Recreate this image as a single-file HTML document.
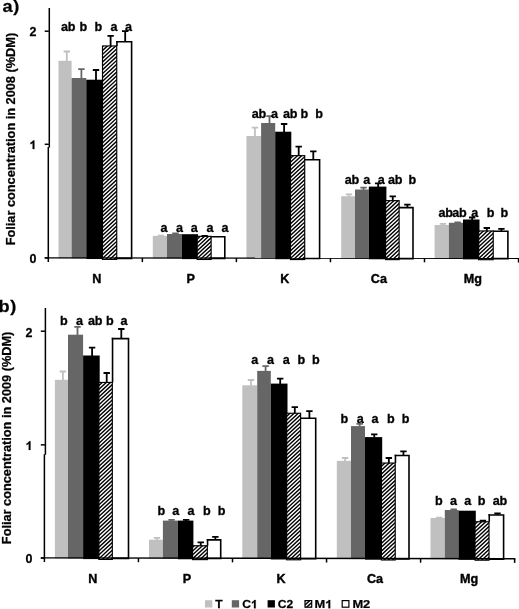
<!DOCTYPE html>
<html><head><meta charset="utf-8"><title>Foliar concentration</title>
<style>html,body{margin:0;padding:0;background:#fff;}svg{display:block;}</style></head>
<body>
<svg width="519" height="609" viewBox="0 0 519 609">
<defs><pattern id="h" width="2.83" height="2.83" patternUnits="userSpaceOnUse" patternTransform="scale(1.07,1) rotate(-45)"><rect width="2.83" height="2.83" fill="#fff"/><rect y="0" width="2.83" height="1.3" fill="#000"/></pattern></defs>
<rect width="519" height="609" fill="#fff"/>
<rect x="58.5" y="60.800000000000004" width="13.10" height="197.54" fill="#c0c0c0"/>
<rect x="71.6" y="78.0" width="14.70" height="180.34" fill="#666666"/>
<rect x="86.3" y="79.69999999999999" width="17.00" height="179.34" fill="#000000"/>
<rect x="116.73" y="41.70" width="14.87" height="216.64" fill="#fff"/>
<path d="M116.15 41.70H131.60V258.34H116.15" fill="none" stroke="#000" stroke-width="1.6"/>
<path d="M116.95 40.90V46.00" fill="none" stroke="#000" stroke-width="1.6"/>
<clipPath id="c1"><rect x="102.50" y="45.95" width="14.23" height="213.44"/></clipPath>
<rect x="102.50" y="45.95" width="14.23" height="213.44" fill="#fff"/>
<path clip-path="url(#c1)" d="M101.50 43.78L117.73 28.69M101.50 47.63L117.73 32.54M101.50 51.48L117.73 36.39M101.50 55.33L117.73 40.24M101.50 59.18L117.73 44.09M101.50 63.03L117.73 47.94M101.50 66.88L117.73 51.79M101.50 70.73L117.73 55.64M101.50 74.58L117.73 59.49M101.50 78.43L117.73 63.34M101.50 82.28L117.73 67.19M101.50 86.13L117.73 71.04M101.50 89.98L117.73 74.89M101.50 93.83L117.73 78.74M101.50 97.68L117.73 82.59M101.50 101.53L117.73 86.44M101.50 105.38L117.73 90.29M101.50 109.23L117.73 94.14M101.50 113.08L117.73 97.99M101.50 116.93L117.73 101.84M101.50 120.78L117.73 105.69M101.50 124.63L117.73 109.54M101.50 128.48L117.73 113.39M101.50 132.33L117.73 117.24M101.50 136.18L117.73 121.09M101.50 140.03L117.73 124.94M101.50 143.88L117.73 128.79M101.50 147.73L117.73 132.64M101.50 151.58L117.73 136.49M101.50 155.43L117.73 140.34M101.50 159.28L117.73 144.19M101.50 163.13L117.73 148.04M101.50 166.98L117.73 151.89M101.50 170.83L117.73 155.74M101.50 174.68L117.73 159.59M101.50 178.53L117.73 163.44M101.50 182.38L117.73 167.29M101.50 186.23L117.73 171.14M101.50 190.08L117.73 174.99M101.50 193.93L117.73 178.84M101.50 197.78L117.73 182.69M101.50 201.63L117.73 186.54M101.50 205.48L117.73 190.39M101.50 209.33L117.73 194.24M101.50 213.18L117.73 198.09M101.50 217.03L117.73 201.94M101.50 220.88L117.73 205.79M101.50 224.73L117.73 209.64M101.50 228.58L117.73 213.49M101.50 232.43L117.73 217.34M101.50 236.28L117.73 221.19M101.50 240.13L117.73 225.04M101.50 243.98L117.73 228.89M101.50 247.83L117.73 232.74M101.50 251.68L117.73 236.59M101.50 255.53L117.73 240.44M101.50 259.38L117.73 244.29M101.50 263.23L117.73 248.14M101.50 267.08L117.73 251.99M101.50 270.93L117.73 255.84M101.50 274.78L117.73 259.69" stroke="#000" stroke-width="1.4" fill="none"/>
<rect x="102.50" y="45.95" width="14.23" height="213.44" fill="none" stroke="#000" stroke-width="1.15"/>
<path d="M66.80 61.30V51.50M63.60 51.50H70.00" stroke="#c0c0c0" stroke-width="1.8" fill="none"/>
<path d="M81.40 78.50V69.20M78.20 69.20H84.60" stroke="#666666" stroke-width="1.8" fill="none"/>
<path d="M96.00 80.20V70.00M92.80 70.00H99.20" stroke="#000000" stroke-width="1.8" fill="none"/>
<path d="M110.60 45.90V35.90M107.40 35.90H113.80" stroke="#000000" stroke-width="1.8" fill="none"/>
<path d="M125.20 41.40V31.20M122.00 31.20H128.40" stroke="#000000" stroke-width="1.8" fill="none"/>
<rect x="152.8" y="235.9" width="14.20" height="22.52" fill="#c0c0c0"/>
<rect x="167" y="234.0" width="14.90" height="24.42" fill="#666666"/>
<rect x="181.9" y="234.2" width="16.10" height="24.92" fill="#000000"/>
<rect x="211.12" y="236.70" width="13.67" height="21.72" fill="#fff"/>
<path d="M210.55 236.70H224.80V258.42H210.55" fill="none" stroke="#000" stroke-width="1.6"/>
<clipPath id="c2"><rect x="197.20" y="236.35" width="13.93" height="23.12"/></clipPath>
<rect x="197.20" y="236.35" width="13.93" height="23.12" fill="#fff"/>
<path clip-path="url(#c2)" d="M196.20 236.28L212.12 221.47M196.20 240.13L212.12 225.32M196.20 243.98L212.12 229.17M196.20 247.83L212.12 233.02M196.20 251.68L212.12 236.87M196.20 255.53L212.12 240.72M196.20 259.38L212.12 244.57M196.20 263.23L212.12 248.42M196.20 267.08L212.12 252.27M196.20 270.93L212.12 256.12M196.20 274.78L212.12 259.97" stroke="#000" stroke-width="1.4" fill="none"/>
<rect x="197.20" y="236.35" width="13.93" height="23.12" fill="none" stroke="#000" stroke-width="1.15"/>
<path d="M160.85 236.40V235.60M157.65 235.60H164.05" stroke="#c0c0c0" stroke-width="1.8" fill="none"/>
<path d="M175.45 234.50V233.50M172.25 233.50H178.65" stroke="#666666" stroke-width="1.8" fill="none"/>
<path d="M204.65 236.30V235.80M201.45 235.80H207.85" stroke="#000000" stroke-width="1.8" fill="none"/>
<rect x="246.4" y="136.0" width="14.70" height="122.50" fill="#c0c0c0"/>
<rect x="261.1" y="123.0" width="14.10" height="135.50" fill="#666666"/>
<rect x="275.2" y="131.7" width="16.10" height="127.50" fill="#000000"/>
<rect x="304.72" y="159.80" width="14.88" height="98.70" fill="#fff"/>
<path d="M304.15 159.80H319.60V258.50H304.15" fill="none" stroke="#000" stroke-width="1.6"/>
<clipPath id="c3"><rect x="290.50" y="155.65" width="14.22" height="103.90"/></clipPath>
<rect x="290.50" y="155.65" width="14.22" height="103.90" fill="#fff"/>
<path clip-path="url(#c3)" d="M289.50 155.43L305.72 140.34M289.50 159.28L305.72 144.19M289.50 163.13L305.72 148.04M289.50 166.98L305.72 151.89M289.50 170.83L305.72 155.74M289.50 174.68L305.72 159.59M289.50 178.53L305.72 163.44M289.50 182.38L305.72 167.29M289.50 186.23L305.72 171.14M289.50 190.08L305.72 174.99M289.50 193.93L305.72 178.84M289.50 197.78L305.72 182.69M289.50 201.63L305.72 186.54M289.50 205.48L305.72 190.39M289.50 209.33L305.72 194.24M289.50 213.18L305.72 198.09M289.50 217.03L305.72 201.94M289.50 220.88L305.72 205.79M289.50 224.73L305.72 209.64M289.50 228.58L305.72 213.49M289.50 232.43L305.72 217.34M289.50 236.28L305.72 221.19M289.50 240.13L305.72 225.04M289.50 243.98L305.72 228.89M289.50 247.83L305.72 232.74M289.50 251.68L305.72 236.59M289.50 255.53L305.72 240.44M289.50 259.38L305.72 244.29M289.50 263.23L305.72 248.14M289.50 267.08L305.72 251.99M289.50 270.93L305.72 255.84M289.50 274.78L305.72 259.69" stroke="#000" stroke-width="1.4" fill="none"/>
<rect x="290.50" y="155.65" width="14.22" height="103.90" fill="none" stroke="#000" stroke-width="1.15"/>
<path d="M254.90 136.50V127.70M251.70 127.70H258.10" stroke="#c0c0c0" stroke-width="1.8" fill="none"/>
<path d="M269.50 123.50V116.20M266.30 116.20H272.70" stroke="#666666" stroke-width="1.8" fill="none"/>
<path d="M284.10 132.20V124.00M280.90 124.00H287.30" stroke="#000000" stroke-width="1.8" fill="none"/>
<path d="M298.70 155.60V146.70M295.50 146.70H301.90" stroke="#000000" stroke-width="1.8" fill="none"/>
<path d="M313.30 159.50V151.40M310.10 151.40H316.50" stroke="#000000" stroke-width="1.8" fill="none"/>
<rect x="341.2" y="196.2" width="13.80" height="62.38" fill="#c0c0c0"/>
<rect x="355" y="189.5" width="13.80" height="69.08" fill="#666666"/>
<rect x="368.8" y="186.6" width="17.60" height="72.68" fill="#000000"/>
<rect x="399.12" y="207.60" width="13.88" height="50.98" fill="#fff"/>
<path d="M398.55 207.60H413.00V258.58H398.55" fill="none" stroke="#000" stroke-width="1.6"/>
<clipPath id="c4"><rect x="385.60" y="200.65" width="13.52" height="58.98"/></clipPath>
<rect x="385.60" y="200.65" width="13.52" height="58.98" fill="#fff"/>
<path clip-path="url(#c4)" d="M384.60 201.63L400.12 187.19M384.60 205.48L400.12 191.04M384.60 209.33L400.12 194.89M384.60 213.18L400.12 198.74M384.60 217.03L400.12 202.59M384.60 220.88L400.12 206.44M384.60 224.73L400.12 210.29M384.60 228.58L400.12 214.14M384.60 232.43L400.12 217.99M384.60 236.28L400.12 221.84M384.60 240.13L400.12 225.69M384.60 243.98L400.12 229.54M384.60 247.83L400.12 233.39M384.60 251.68L400.12 237.24M384.60 255.53L400.12 241.09M384.60 259.38L400.12 244.94M384.60 263.23L400.12 248.79M384.60 267.08L400.12 252.64M384.60 270.93L400.12 256.49M384.60 274.78L400.12 260.34" stroke="#000" stroke-width="1.4" fill="none"/>
<rect x="385.60" y="200.65" width="13.52" height="58.98" fill="none" stroke="#000" stroke-width="1.15"/>
<path d="M348.95 196.70V194.40M345.75 194.40H352.15" stroke="#c0c0c0" stroke-width="1.8" fill="none"/>
<path d="M363.55 190.00V187.70M360.35 187.70H366.75" stroke="#666666" stroke-width="1.8" fill="none"/>
<path d="M378.15 187.10V183.40M374.95 183.40H381.35" stroke="#000000" stroke-width="1.8" fill="none"/>
<path d="M392.75 200.60V196.30M389.55 196.30H395.95" stroke="#000000" stroke-width="1.8" fill="none"/>
<path d="M407.35 207.30V204.60M404.15 204.60H410.55" stroke="#000000" stroke-width="1.8" fill="none"/>
<rect x="434.6" y="225.0" width="14.30" height="33.66" fill="#c0c0c0"/>
<rect x="448.9" y="222.79999999999998" width="14.10" height="35.86" fill="#666666"/>
<rect x="463" y="219.5" width="16.50" height="39.86" fill="#000000"/>
<rect x="493.22" y="231.20" width="14.68" height="27.46" fill="#fff"/>
<path d="M492.65 231.20H507.90V258.66H492.65" fill="none" stroke="#000" stroke-width="1.6"/>
<clipPath id="c5"><rect x="478.70" y="230.95" width="14.52" height="28.76"/></clipPath>
<rect x="478.70" y="230.95" width="14.52" height="28.76" fill="#fff"/>
<path clip-path="url(#c5)" d="M477.70 228.58L494.22 213.21M477.70 232.43L494.22 217.06M477.70 236.28L494.22 220.91M477.70 240.13L494.22 224.76M477.70 243.98L494.22 228.61M477.70 247.83L494.22 232.46M477.70 251.68L494.22 236.31M477.70 255.53L494.22 240.16M477.70 259.38L494.22 244.01M477.70 263.23L494.22 247.86M477.70 267.08L494.22 251.71M477.70 270.93L494.22 255.56M477.70 274.78L494.22 259.41" stroke="#000" stroke-width="1.4" fill="none"/>
<rect x="478.70" y="230.95" width="14.52" height="28.76" fill="none" stroke="#000" stroke-width="1.15"/>
<path d="M443.00 225.50V223.80M439.80 223.80H446.20" stroke="#c0c0c0" stroke-width="1.8" fill="none"/>
<path d="M457.60 223.30V222.40M454.40 222.40H460.80" stroke="#666666" stroke-width="1.8" fill="none"/>
<path d="M472.20 220.00V217.50M469.00 217.50H475.40" stroke="#000000" stroke-width="1.8" fill="none"/>
<path d="M486.80 230.90V228.00M483.60 228.00H490.00" stroke="#000000" stroke-width="1.8" fill="none"/>
<path d="M501.40 230.90V228.90M498.20 228.90H504.60" stroke="#000000" stroke-width="1.8" fill="none"/>
<path d="M49.3 8V147.5M48.3 147.0V258.3" stroke="#000" stroke-width="1.5" fill="none"/>
<path d="M44.699999999999996 257.90L519.30 258.30" stroke="#000" stroke-width="1.4" fill="none"/>
<path d="M48.30 257.90V262.00" stroke="#000" stroke-width="1.5" fill="none"/>
<path d="M142.35 257.98V262.08" stroke="#000" stroke-width="1.5" fill="none"/>
<path d="M236.40 258.06V262.16" stroke="#000" stroke-width="1.5" fill="none"/>
<path d="M330.45 258.14V262.24" stroke="#000" stroke-width="1.5" fill="none"/>
<path d="M424.50 258.22V262.32" stroke="#000" stroke-width="1.5" fill="none"/>
<path d="M518.55 258.30V262.40" stroke="#000" stroke-width="1.5" fill="none"/>
<path d="M44.699999999999996 257.90H48.8" stroke="#000" stroke-width="1.5" fill="none"/>
<path d="M44.699999999999996 144.30H48.8" stroke="#000" stroke-width="1.5" fill="none"/>
<path d="M44.699999999999996 31.20H48.8" stroke="#000" stroke-width="1.5" fill="none"/>
<rect x="54.9" y="379.8" width="13.10" height="178.59" fill="#c0c0c0"/>
<rect x="68" y="334.70000000000005" width="15.10" height="223.69" fill="#666666"/>
<rect x="83.1" y="355.5" width="16.60" height="203.59" fill="#000000"/>
<rect x="112.33" y="338.60" width="16.17" height="219.79" fill="#fff"/>
<path d="M111.75 338.60H128.50V558.39H111.75" fill="none" stroke="#000" stroke-width="1.6"/>
<path d="M112.55 337.80V382.50" fill="none" stroke="#000" stroke-width="1.6"/>
<clipPath id="c6"><rect x="98.90" y="382.45" width="13.42" height="176.99"/></clipPath>
<rect x="98.90" y="382.45" width="13.42" height="176.99" fill="#fff"/>
<path clip-path="url(#c6)" d="M97.90 382.58L113.33 368.23M97.90 386.43L113.33 372.08M97.90 390.28L113.33 375.93M97.90 394.13L113.33 379.78M97.90 397.98L113.33 383.63M97.90 401.83L113.33 387.48M97.90 405.68L113.33 391.33M97.90 409.53L113.33 395.18M97.90 413.38L113.33 399.03M97.90 417.23L113.33 402.88M97.90 421.08L113.33 406.73M97.90 424.93L113.33 410.58M97.90 428.78L113.33 414.43M97.90 432.63L113.33 418.28M97.90 436.48L113.33 422.13M97.90 440.33L113.33 425.98M97.90 444.18L113.33 429.83M97.90 448.03L113.33 433.68M97.90 451.88L113.33 437.53M97.90 455.73L113.33 441.38M97.90 459.58L113.33 445.23M97.90 463.43L113.33 449.08M97.90 467.28L113.33 452.93M97.90 471.13L113.33 456.78M97.90 474.98L113.33 460.63M97.90 478.83L113.33 464.48M97.90 482.68L113.33 468.33M97.90 486.53L113.33 472.18M97.90 490.38L113.33 476.03M97.90 494.23L113.33 479.88M97.90 498.08L113.33 483.73M97.90 501.93L113.33 487.58M97.90 505.78L113.33 491.43M97.90 509.63L113.33 495.28M97.90 513.48L113.33 499.13M97.90 517.33L113.33 502.98M97.90 521.18L113.33 506.83M97.90 525.03L113.33 510.68M97.90 528.88L113.33 514.53M97.90 532.73L113.33 518.38M97.90 536.58L113.33 522.23M97.90 540.43L113.33 526.08M97.90 544.28L113.33 529.93M97.90 548.13L113.33 533.78M97.90 551.98L113.33 537.63M97.90 555.83L113.33 541.48M97.90 559.68L113.33 545.33M97.90 563.53L113.33 549.18M97.90 567.38L113.33 553.03M97.90 571.23L113.33 556.88M97.90 575.08L113.33 560.73" stroke="#000" stroke-width="1.4" fill="none"/>
<rect x="98.90" y="382.45" width="13.42" height="176.99" fill="none" stroke="#000" stroke-width="1.15"/>
<path d="M62.90 380.30V371.50M59.70 371.50H66.10" stroke="#c0c0c0" stroke-width="1.8" fill="none"/>
<path d="M77.50 335.20V326.80M74.30 326.80H80.70" stroke="#666666" stroke-width="1.8" fill="none"/>
<path d="M92.10 356.00V347.60M88.90 347.60H95.30" stroke="#000000" stroke-width="1.8" fill="none"/>
<path d="M106.70 382.40V373.00M103.50 373.00H109.90" stroke="#000000" stroke-width="1.8" fill="none"/>
<path d="M121.30 338.30V329.00M118.10 329.00H124.50" stroke="#000000" stroke-width="1.8" fill="none"/>
<rect x="149" y="539.7" width="13.90" height="18.87" fill="#c0c0c0"/>
<rect x="162.9" y="520.6" width="14.90" height="37.97" fill="#666666"/>
<rect x="177.8" y="520.6" width="15.60" height="38.67" fill="#000000"/>
<rect x="207.32" y="539.90" width="13.38" height="18.67" fill="#fff"/>
<path d="M206.75 539.90H220.70V558.57H206.75" fill="none" stroke="#000" stroke-width="1.6"/>
<path d="M207.55 539.10V545.80" fill="none" stroke="#000" stroke-width="1.6"/>
<clipPath id="c7"><rect x="192.60" y="545.75" width="14.72" height="13.87"/></clipPath>
<rect x="192.60" y="545.75" width="14.72" height="13.87" fill="#fff"/>
<path clip-path="url(#c7)" d="M191.60 544.28L208.32 528.73M191.60 548.13L208.32 532.58M191.60 551.98L208.32 536.43M191.60 555.83L208.32 540.28M191.60 559.68L208.32 544.13M191.60 563.53L208.32 547.98M191.60 567.38L208.32 551.83M191.60 571.23L208.32 555.68M191.60 575.08L208.32 559.53" stroke="#000" stroke-width="1.4" fill="none"/>
<rect x="192.60" y="545.75" width="14.72" height="13.87" fill="none" stroke="#000" stroke-width="1.15"/>
<path d="M156.95 540.20V537.80M153.75 537.80H160.15" stroke="#c0c0c0" stroke-width="1.8" fill="none"/>
<path d="M171.55 521.10V519.90M168.35 519.90H174.75" stroke="#666666" stroke-width="1.8" fill="none"/>
<path d="M186.15 521.10V519.90M182.95 519.90H189.35" stroke="#000000" stroke-width="1.8" fill="none"/>
<path d="M200.75 545.70V542.40M197.55 542.40H203.95" stroke="#000000" stroke-width="1.8" fill="none"/>
<path d="M215.35 539.60V536.90M212.15 536.90H218.55" stroke="#000000" stroke-width="1.8" fill="none"/>
<rect x="242.3" y="385.3" width="14.90" height="173.45" fill="#c0c0c0"/>
<rect x="257.2" y="370.90000000000003" width="13.60" height="187.85" fill="#666666"/>
<rect x="270.8" y="383.6" width="16.70" height="175.85" fill="#000000"/>
<rect x="300.62" y="418.20" width="15.08" height="140.55" fill="#fff"/>
<path d="M300.05 418.20H315.70V558.75H300.05" fill="none" stroke="#000" stroke-width="1.6"/>
<clipPath id="c8"><rect x="286.70" y="413.25" width="13.92" height="146.55"/></clipPath>
<rect x="286.70" y="413.25" width="13.92" height="146.55" fill="#fff"/>
<path clip-path="url(#c8)" d="M285.70 413.38L301.62 398.57M285.70 417.23L301.62 402.42M285.70 421.08L301.62 406.27M285.70 424.93L301.62 410.12M285.70 428.78L301.62 413.97M285.70 432.63L301.62 417.82M285.70 436.48L301.62 421.67M285.70 440.33L301.62 425.52M285.70 444.18L301.62 429.37M285.70 448.03L301.62 433.22M285.70 451.88L301.62 437.07M285.70 455.73L301.62 440.92M285.70 459.58L301.62 444.77M285.70 463.43L301.62 448.62M285.70 467.28L301.62 452.47M285.70 471.13L301.62 456.32M285.70 474.98L301.62 460.17M285.70 478.83L301.62 464.02M285.70 482.68L301.62 467.87M285.70 486.53L301.62 471.72M285.70 490.38L301.62 475.57M285.70 494.23L301.62 479.42M285.70 498.08L301.62 483.27M285.70 501.93L301.62 487.12M285.70 505.78L301.62 490.97M285.70 509.63L301.62 494.82M285.70 513.48L301.62 498.67M285.70 517.33L301.62 502.52M285.70 521.18L301.62 506.37M285.70 525.03L301.62 510.22M285.70 528.88L301.62 514.07M285.70 532.73L301.62 517.92M285.70 536.58L301.62 521.77M285.70 540.43L301.62 525.62M285.70 544.28L301.62 529.47M285.70 548.13L301.62 533.32M285.70 551.98L301.62 537.17M285.70 555.83L301.62 541.02M285.70 559.68L301.62 544.87M285.70 563.53L301.62 548.72M285.70 567.38L301.62 552.57M285.70 571.23L301.62 556.42M285.70 575.08L301.62 560.27" stroke="#000" stroke-width="1.4" fill="none"/>
<rect x="286.70" y="413.25" width="13.92" height="146.55" fill="none" stroke="#000" stroke-width="1.15"/>
<path d="M251.00 385.80V380.00M247.80 380.00H254.20" stroke="#c0c0c0" stroke-width="1.8" fill="none"/>
<path d="M265.60 371.40V366.10M262.40 366.10H268.80" stroke="#666666" stroke-width="1.8" fill="none"/>
<path d="M280.20 384.10V378.60M277.00 378.60H283.40" stroke="#000000" stroke-width="1.8" fill="none"/>
<path d="M294.80 413.20V407.20M291.60 407.20H298.00" stroke="#000000" stroke-width="1.8" fill="none"/>
<path d="M309.40 417.90V411.20M306.20 411.20H312.60" stroke="#000000" stroke-width="1.8" fill="none"/>
<rect x="336.8" y="460.8" width="14.20" height="98.13" fill="#c0c0c0"/>
<rect x="351" y="426.1" width="14.00" height="132.83" fill="#666666"/>
<rect x="365.0" y="437.1" width="17.20" height="122.53" fill="#000000"/>
<rect x="395.22" y="455.50" width="13.78" height="103.43" fill="#fff"/>
<path d="M394.65 455.50H409.00V558.93H394.65" fill="none" stroke="#000" stroke-width="1.6"/>
<path d="M395.45 454.70V463.10" fill="none" stroke="#000" stroke-width="1.6"/>
<clipPath id="c9"><rect x="381.40" y="463.05" width="13.82" height="96.93"/></clipPath>
<rect x="381.40" y="463.05" width="13.82" height="96.93" fill="#fff"/>
<path clip-path="url(#c9)" d="M380.40 463.43L396.22 448.71M380.40 467.28L396.22 452.56M380.40 471.13L396.22 456.41M380.40 474.98L396.22 460.26M380.40 478.83L396.22 464.11M380.40 482.68L396.22 467.96M380.40 486.53L396.22 471.81M380.40 490.38L396.22 475.66M380.40 494.23L396.22 479.51M380.40 498.08L396.22 483.36M380.40 501.93L396.22 487.21M380.40 505.78L396.22 491.06M380.40 509.63L396.22 494.91M380.40 513.48L396.22 498.76M380.40 517.33L396.22 502.61M380.40 521.18L396.22 506.46M380.40 525.03L396.22 510.31M380.40 528.88L396.22 514.16M380.40 532.73L396.22 518.01M380.40 536.58L396.22 521.86M380.40 540.43L396.22 525.71M380.40 544.28L396.22 529.56M380.40 548.13L396.22 533.41M380.40 551.98L396.22 537.26M380.40 555.83L396.22 541.11M380.40 559.68L396.22 544.96M380.40 563.53L396.22 548.81M380.40 567.38L396.22 552.66M380.40 571.23L396.22 556.51M380.40 575.08L396.22 560.36" stroke="#000" stroke-width="1.4" fill="none"/>
<rect x="381.40" y="463.05" width="13.82" height="96.93" fill="none" stroke="#000" stroke-width="1.15"/>
<path d="M345.05 461.30V458.00M341.85 458.00H348.25" stroke="#c0c0c0" stroke-width="1.8" fill="none"/>
<path d="M359.65 426.60V423.90M356.45 423.90H362.85" stroke="#666666" stroke-width="1.8" fill="none"/>
<path d="M374.25 437.60V434.30M371.05 434.30H377.45" stroke="#000000" stroke-width="1.8" fill="none"/>
<path d="M388.85 463.00V458.00M385.65 458.00H392.05" stroke="#000000" stroke-width="1.8" fill="none"/>
<path d="M403.45 455.20V451.30M400.25 451.30H406.65" stroke="#000000" stroke-width="1.8" fill="none"/>
<rect x="430.5" y="518.0" width="14.30" height="41.11" fill="#c0c0c0"/>
<rect x="444.8" y="510.0" width="13.70" height="49.11" fill="#666666"/>
<rect x="458.5" y="510.70000000000005" width="17.30" height="49.11" fill="#000000"/>
<rect x="489.02" y="515.00" width="14.57" height="44.11" fill="#fff"/>
<path d="M488.45 515.00H503.60V559.11H488.45" fill="none" stroke="#000" stroke-width="1.6"/>
<path d="M489.25 514.20V521.80" fill="none" stroke="#000" stroke-width="1.6"/>
<clipPath id="c10"><rect x="475.00" y="521.75" width="14.02" height="38.41"/></clipPath>
<rect x="475.00" y="521.75" width="14.02" height="38.41" fill="#fff"/>
<path clip-path="url(#c10)" d="M474.00 521.18L490.02 506.28M474.00 525.03L490.02 510.13M474.00 528.88L490.02 513.98M474.00 532.73L490.02 517.83M474.00 536.58L490.02 521.68M474.00 540.43L490.02 525.53M474.00 544.28L490.02 529.38M474.00 548.13L490.02 533.23M474.00 551.98L490.02 537.08M474.00 555.83L490.02 540.93M474.00 559.68L490.02 544.78M474.00 563.53L490.02 548.63M474.00 567.38L490.02 552.48M474.00 571.23L490.02 556.33M474.00 575.08L490.02 560.18" stroke="#000" stroke-width="1.4" fill="none"/>
<rect x="475.00" y="521.75" width="14.02" height="38.41" fill="none" stroke="#000" stroke-width="1.15"/>
<path d="M439.10 518.50V517.70M435.90 517.70H442.30" stroke="#c0c0c0" stroke-width="1.8" fill="none"/>
<path d="M453.70 510.50V509.50M450.50 509.50H456.90" stroke="#666666" stroke-width="1.8" fill="none"/>
<path d="M482.90 521.70V520.60M479.70 520.60H486.10" stroke="#000000" stroke-width="1.8" fill="none"/>
<path d="M497.50 514.70V513.50M494.30 513.50H500.70" stroke="#000000" stroke-width="1.8" fill="none"/>
<path d="M45.4 308V454.7M44.4 454.2V558.3" stroke="#000" stroke-width="1.5" fill="none"/>
<path d="M40.8 557.90L515.40 558.80" stroke="#000" stroke-width="1.4" fill="none"/>
<path d="M44.40 557.90V562.00" stroke="#000" stroke-width="1.5" fill="none"/>
<path d="M138.45 558.08V562.18" stroke="#000" stroke-width="1.5" fill="none"/>
<path d="M232.50 558.26V562.36" stroke="#000" stroke-width="1.5" fill="none"/>
<path d="M326.55 558.44V562.54" stroke="#000" stroke-width="1.5" fill="none"/>
<path d="M420.60 558.62V562.72" stroke="#000" stroke-width="1.5" fill="none"/>
<path d="M514.65 558.80V562.90" stroke="#000" stroke-width="1.5" fill="none"/>
<path d="M40.8 558.10H44.9" stroke="#000" stroke-width="1.5" fill="none"/>
<path d="M40.8 444.85H44.9" stroke="#000" stroke-width="1.5" fill="none"/>
<path d="M40.8 331.20H44.9" stroke="#000" stroke-width="1.5" fill="none"/>
<rect x="205" y="600.2" width="7.3" height="7.3" fill="#c0c0c0"/>
<rect x="231.8" y="600.2" width="7.3" height="7.3" fill="#666666"/>
<rect x="267.6" y="600.2" width="7.3" height="7.3" fill="#000000"/>
<clipPath id="c11"><rect x="305.00" y="600.60" width="6.70" height="6.60"/></clipPath>
<rect x="305.00" y="600.60" width="6.70" height="6.60" fill="#fff"/>
<path clip-path="url(#c11)" d="M304.00 602.03L312.70 593.94M304.00 605.88L312.70 597.79M304.00 609.73L312.70 601.64M304.00 613.58L312.70 605.49M304.00 617.43L312.70 609.34" stroke="#000" stroke-width="1.4" fill="none"/>
<rect x="305.00" y="600.60" width="6.70" height="6.60" fill="none" stroke="#000" stroke-width="1.2"/>
<rect x="342.2" y="600.6" width="6.7" height="6.6" fill="#fff" stroke="#000" stroke-width="1.2"/>
<g font-family="Liberation Sans, sans-serif" font-weight="bold" fill="#000" stroke="#000" opacity="0.999">
<text transform="translate(36.40,262.70) scale(1.04,1)" font-size="12" text-anchor="end" stroke-width="0.25">0</text>
<path transform="translate(29.46,149.10) scale(0.006094,-0.005859)" d="M806 0H525V1059Q371 915 162 846V1101Q272 1137 401 1237.5Q530 1338 578 1472H806Z" stroke-width="42.7"/>
<text transform="translate(36.40,36.00) scale(1.04,1)" font-size="12" text-anchor="end" stroke-width="0.25">2</text>
<text transform="translate(96.72,282.50) scale(0.97,1)" font-size="13.0" text-anchor="middle" stroke-width="0.4">N</text>
<text transform="translate(190.78,282.50) scale(0.97,1)" font-size="13.0" text-anchor="middle" stroke-width="0.4">P</text>
<text transform="translate(284.83,282.50) scale(0.97,1)" font-size="13.0" text-anchor="middle" stroke-width="0.4">K</text>
<text transform="translate(378.88,282.50) scale(0.97,1)" font-size="13.0" text-anchor="middle" stroke-width="0.4">Ca</text>
<text transform="translate(472.93,282.50) scale(0.97,1)" font-size="13.0" text-anchor="middle" stroke-width="0.4">Mg</text>
<text transform="translate(32.50,562.80) scale(1.04,1)" font-size="12" text-anchor="end" stroke-width="0.25">0</text>
<path transform="translate(25.56,449.90) scale(0.006094,-0.005859)" d="M806 0H525V1059Q371 915 162 846V1101Q272 1137 401 1237.5Q530 1338 578 1472H806Z" stroke-width="42.7"/>
<text transform="translate(32.50,336.90) scale(1.04,1)" font-size="12" text-anchor="end" stroke-width="0.25">2</text>
<text transform="translate(92.82,582.50) scale(0.97,1)" font-size="13.0" text-anchor="middle" stroke-width="0.4">N</text>
<text transform="translate(186.88,582.50) scale(0.97,1)" font-size="13.0" text-anchor="middle" stroke-width="0.4">P</text>
<text transform="translate(280.93,582.50) scale(0.97,1)" font-size="13.0" text-anchor="middle" stroke-width="0.4">K</text>
<text transform="translate(374.98,582.50) scale(0.97,1)" font-size="13.0" text-anchor="middle" stroke-width="0.4">Ca</text>
<text transform="translate(469.02,582.50) scale(0.97,1)" font-size="13.0" text-anchor="middle" stroke-width="0.4">Mg</text>
<text transform="translate(15.00,139.10) rotate(-90) scale(1.063,1)" font-size="12" text-anchor="middle" stroke-width="0.25">Foliar concentration in 2008 (%DM)</text>
<text transform="translate(11.40,437.90) rotate(-90) scale(1.063,1)" font-size="12" text-anchor="middle" stroke-width="0.25">Foliar concentration in 2009 (%DM)</text>
<text transform="translate(2.50,12.00) scale(1.07,1)" font-size="17" text-anchor="start" stroke-width="0.25" letter-spacing="0.5">a)</text>
<text transform="translate(-1.40,311.80) scale(1.07,1)" font-size="17" text-anchor="start" stroke-width="0.25" letter-spacing="0.5">b)</text>
<text transform="translate(68.15,30.80) scale(1.05,1)" font-size="12" text-anchor="middle" stroke-width="0.3" letter-spacing="-0.3">ab</text>
<text transform="translate(83.45,30.80) scale(1.05,1)" font-size="12" text-anchor="middle" stroke-width="0.3">b</text>
<text transform="translate(98.35,30.80) scale(1.05,1)" font-size="12" text-anchor="middle" stroke-width="0.3">b</text>
<text transform="translate(113.90,30.80) scale(1.05,1)" font-size="12" text-anchor="middle" stroke-width="0.3">a</text>
<text transform="translate(128.40,30.80) scale(1.05,1)" font-size="12" text-anchor="middle" stroke-width="0.3">a</text>
<text transform="translate(164.00,232.20) scale(1.05,1)" font-size="12" text-anchor="middle" stroke-width="0.3">a</text>
<text transform="translate(179.60,232.20) scale(1.05,1)" font-size="12" text-anchor="middle" stroke-width="0.3">a</text>
<text transform="translate(194.30,232.20) scale(1.05,1)" font-size="12" text-anchor="middle" stroke-width="0.3">a</text>
<text transform="translate(209.90,232.20) scale(1.05,1)" font-size="12" text-anchor="middle" stroke-width="0.3">a</text>
<text transform="translate(225.00,232.20) scale(1.05,1)" font-size="12" text-anchor="middle" stroke-width="0.3">a</text>
<text transform="translate(258.85,118.30) scale(1.05,1)" font-size="12" text-anchor="middle" stroke-width="0.3" letter-spacing="-0.3">ab</text>
<text transform="translate(274.45,118.30) scale(1.05,1)" font-size="12" text-anchor="middle" stroke-width="0.3">a</text>
<text transform="translate(290.00,118.30) scale(1.05,1)" font-size="12" text-anchor="middle" stroke-width="0.3" letter-spacing="-0.3">ab</text>
<text transform="translate(304.30,118.30) scale(1.05,1)" font-size="12" text-anchor="middle" stroke-width="0.3">b</text>
<text transform="translate(319.05,118.30) scale(1.05,1)" font-size="12" text-anchor="middle" stroke-width="0.3">b</text>
<text transform="translate(351.75,183.80) scale(1.05,1)" font-size="12" text-anchor="middle" stroke-width="0.3" letter-spacing="-0.3">ab</text>
<text transform="translate(366.75,183.80) scale(1.05,1)" font-size="12" text-anchor="middle" stroke-width="0.3">a</text>
<text transform="translate(381.20,183.80) scale(1.05,1)" font-size="12" text-anchor="middle" stroke-width="0.3">a</text>
<text transform="translate(395.15,183.80) scale(1.05,1)" font-size="12" text-anchor="middle" stroke-width="0.3" letter-spacing="-0.3">ab</text>
<text transform="translate(412.40,183.80) scale(1.05,1)" font-size="12" text-anchor="middle" stroke-width="0.3">b</text>
<text transform="translate(445.50,217.20) scale(1.05,1)" font-size="12" text-anchor="middle" stroke-width="0.3" letter-spacing="-0.3">ab</text>
<text transform="translate(459.40,217.20) scale(1.05,1)" font-size="12" text-anchor="middle" stroke-width="0.3" letter-spacing="-0.3">ab</text>
<text transform="translate(474.75,217.20) scale(1.05,1)" font-size="12" text-anchor="middle" stroke-width="0.3">a</text>
<text transform="translate(490.65,217.20) scale(1.05,1)" font-size="12" text-anchor="middle" stroke-width="0.3">b</text>
<text transform="translate(504.25,217.20) scale(1.05,1)" font-size="12" text-anchor="middle" stroke-width="0.3">b</text>
<text transform="translate(63.95,324.60) scale(1.05,1)" font-size="12" text-anchor="middle" stroke-width="0.3">b</text>
<text transform="translate(79.45,324.60) scale(1.05,1)" font-size="12" text-anchor="middle" stroke-width="0.3">a</text>
<text transform="translate(95.05,324.60) scale(1.05,1)" font-size="12" text-anchor="middle" stroke-width="0.3" letter-spacing="-0.3">ab</text>
<text transform="translate(109.90,324.60) scale(1.05,1)" font-size="12" text-anchor="middle" stroke-width="0.3">b</text>
<text transform="translate(123.95,324.60) scale(1.05,1)" font-size="12" text-anchor="middle" stroke-width="0.3">a</text>
<text transform="translate(161.30,515.40) scale(1.05,1)" font-size="12" text-anchor="middle" stroke-width="0.3">b</text>
<text transform="translate(175.75,515.40) scale(1.05,1)" font-size="12" text-anchor="middle" stroke-width="0.3">a</text>
<text transform="translate(191.10,515.40) scale(1.05,1)" font-size="12" text-anchor="middle" stroke-width="0.3">a</text>
<text transform="translate(206.90,515.40) scale(1.05,1)" font-size="12" text-anchor="middle" stroke-width="0.3">b</text>
<text transform="translate(221.50,515.40) scale(1.05,1)" font-size="12" text-anchor="middle" stroke-width="0.3">b</text>
<text transform="translate(254.70,363.50) scale(1.05,1)" font-size="12" text-anchor="middle" stroke-width="0.3">a</text>
<text transform="translate(270.50,363.50) scale(1.05,1)" font-size="12" text-anchor="middle" stroke-width="0.3">a</text>
<text transform="translate(286.30,363.50) scale(1.05,1)" font-size="12" text-anchor="middle" stroke-width="0.3">a</text>
<text transform="translate(301.30,363.50) scale(1.05,1)" font-size="12" text-anchor="middle" stroke-width="0.3">b</text>
<text transform="translate(315.95,363.50) scale(1.05,1)" font-size="12" text-anchor="middle" stroke-width="0.3">b</text>
<text transform="translate(344.40,422.80) scale(1.05,1)" font-size="12" text-anchor="middle" stroke-width="0.3">b</text>
<text transform="translate(360.30,422.80) scale(1.05,1)" font-size="12" text-anchor="middle" stroke-width="0.3">a</text>
<text transform="translate(375.05,422.80) scale(1.05,1)" font-size="12" text-anchor="middle" stroke-width="0.3">a</text>
<text transform="translate(390.80,422.80) scale(1.05,1)" font-size="12" text-anchor="middle" stroke-width="0.3">b</text>
<text transform="translate(405.60,422.80) scale(1.05,1)" font-size="12" text-anchor="middle" stroke-width="0.3">b</text>
<text transform="translate(438.80,505.20) scale(1.05,1)" font-size="12" text-anchor="middle" stroke-width="0.3">b</text>
<text transform="translate(453.60,505.20) scale(1.05,1)" font-size="12" text-anchor="middle" stroke-width="0.3">a</text>
<text transform="translate(467.85,505.20) scale(1.05,1)" font-size="12" text-anchor="middle" stroke-width="0.3">a</text>
<text transform="translate(481.55,505.20) scale(1.05,1)" font-size="12" text-anchor="middle" stroke-width="0.3">b</text>
<text transform="translate(499.85,505.20) scale(1.05,1)" font-size="12" text-anchor="middle" stroke-width="0.3" letter-spacing="-0.3">ab</text>
<text transform="translate(215.20,608.30) scale(1.05,1)" font-size="11.5" text-anchor="start" stroke-width="0.25">T</text>
<text transform="translate(242.20,608.30) scale(1.05,1)" font-size="11.5" text-anchor="start" stroke-width="0.25">C</text>
<path transform="translate(250.92,608.30) scale(0.005896,-0.005615)" d="M806 0H525V1059Q371 915 162 846V1101Q272 1137 401 1237.5Q530 1338 578 1472H806Z" stroke-width="44.5"/>
<text transform="translate(277.80,608.30) scale(1.05,1)" font-size="11.5" text-anchor="start" stroke-width="0.25">C2</text>
<text transform="translate(314.40,608.30) scale(1.12,1)" font-size="11.5" text-anchor="start" stroke-width="0.25">M</text>
<path transform="translate(325.13,608.30) scale(0.006289,-0.005615)" d="M806 0H525V1059Q371 915 162 846V1101Q272 1137 401 1237.5Q530 1338 578 1472H806Z" stroke-width="44.5"/>
<text transform="translate(352.40,608.30) scale(1.12,1)" font-size="11.5" text-anchor="start" stroke-width="0.25">M2</text>
</g>
</svg>
</body></html>
